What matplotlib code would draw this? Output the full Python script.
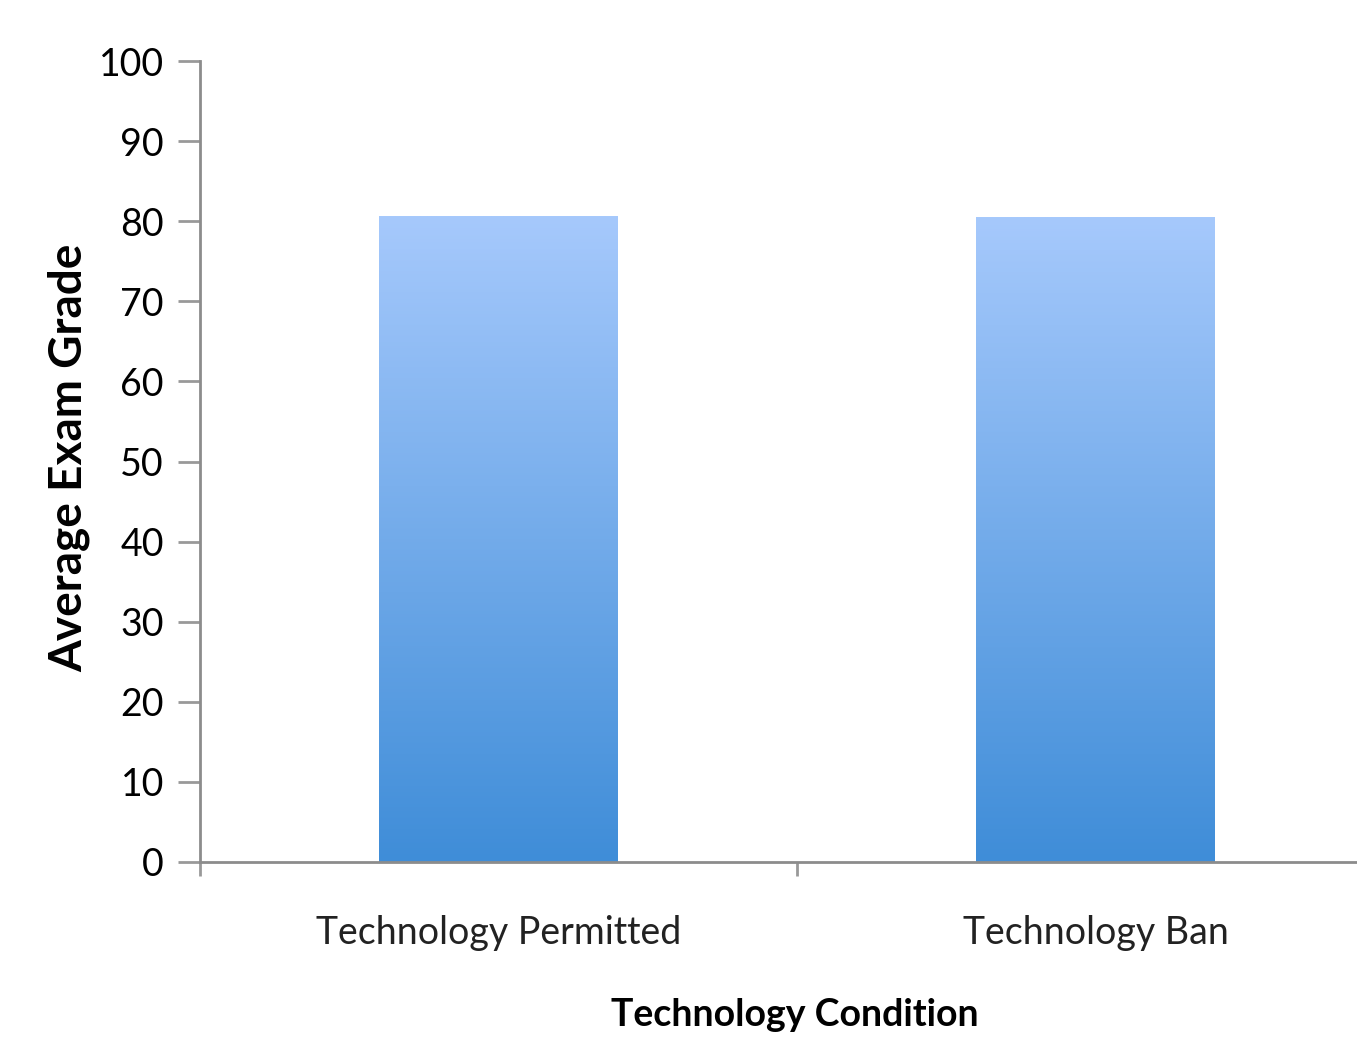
import numpy as np
import matplotlib.pyplot as plt
from matplotlib.colors import LinearSegmentedColormap

plt.rcParams['font.family'] = ['Lato', 'DejaVu Sans']

categories = ['Technology Permitted', 'Technology Ban']
grades = [80.6, 80.5]
yticks = list(range(0, 101, 10))

fig = plt.figure(figsize=(13.57, 10.38), dpi=100)
ax = fig.add_axes([200 / 1357, 1 - 862 / 1038, 1194 / 1357, (862 - 61) / 1038])

x = np.arange(len(categories))
bars = ax.bar(x, grades, width=0.4, color='none', edgecolor='none')

# vertical gradient fill, light at top, darker at bottom
cmap = LinearSegmentedColormap.from_list('grad', ['#3f8dd8', '#a6c9fc'])
grad = np.linspace(0, 1, 256).reshape(-1, 1)
for b in bars:
    x0, y0 = b.get_x(), b.get_y()
    w, h = b.get_width(), b.get_height()
    im = ax.imshow(grad, cmap=cmap, aspect='auto', origin='lower',
                   extent=[x0, x0 + w, y0, y0 + h], zorder=2)
    im.set_clip_path(b)

ax.set_xlim(-0.5, 1.5)
ax.set_ylim(0, 100)
ax.set_yticks(yticks)
ax.set_yticklabels([str(t) for t in yticks], fontsize=27)
ax.set_xticks([-0.5, 0.5, 1.5])
ax.set_xticklabels([])
ax.set_xticks(x, minor=True)
ax.set_xticklabels(categories, minor=True, fontsize=27, color='#222222')
ax.tick_params(axis='x', which='minor', length=0, pad=38)
ax.tick_params(axis='x', which='major', length=10, width=2, color='#999999', direction='out')
ax.tick_params(axis='y', length=16, width=2, color='#999999', pad=10)

for s in ['top', 'right']:
    ax.spines[s].set_visible(False)
for s in ['left', 'bottom']:
    ax.spines[s].set_color('#8c8c8c')
    ax.spines[s].set_linewidth(2)

ax.set_ylabel('Average Exam Grade', fontsize=33, fontweight='bold')
ax.yaxis.set_label_coords(-0.092, (862 - 458) / 801)
ax.set_xlabel('Technology Condition', fontsize=27, fontweight='bold')
ax.xaxis.set_label_coords(595 / 1194, -0.17)

fig.savefig('out.png', dpi=100)
